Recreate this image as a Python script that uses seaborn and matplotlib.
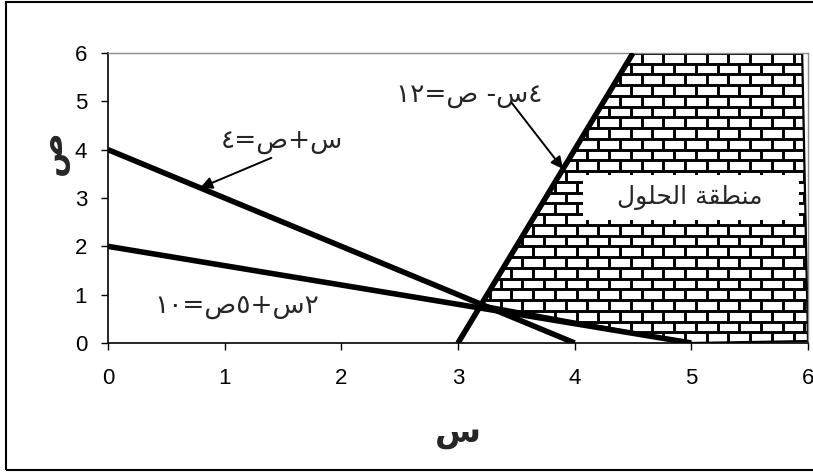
import numpy as np
import pandas as pd
import matplotlib
matplotlib.use("Agg")
import matplotlib.pyplot as plt
import seaborn as sns
from matplotlib.patches import Polygon, Rectangle
from matplotlib.collections import LineCollection

# ---- data ----
line1_x = [0, 4]      # x + y = 4
line1_y = [4, 0]
line2_x = [0, 5]      # 2x + 5y = 10
line2_y = [2, 0]
line3_x = [3, 4.5]    # 4x - y = 12
line3_y = [0, 6]
region_x = [3.2, 4.5, 5.95, 6.0, 5.0]
region_y = [0.8, 6.0, 6.0, 0.04, 0.0]
x_ticks = [0, 1, 2, 3, 4, 5, 6]
y_ticks = [0, 1, 2, 3, 4, 5, 6]

# visual (left-to-right) forms of the Arabic labels
lbl_line1 = "\u0664=\u0635+\u0633"                       # س+ص=٤
lbl_line3 = "\u0661\u0662=\u0635 -\u0633\u0664"           # ٤س- ص=١٢
lbl_line2 = "\u0661\u0660=\u0635\u0665+\u0633\u0662"      # ٢س+٥ص=١٠
lbl_region = ("\uFEDD\uFEEE\uFEE0\uFEA4\uFEDF\uFE8D "
              "\uFE94\uFED8\uFEC4\uFEE8\uFEE3")          # منطقة الحلول
x_label = "\u0633"   # س
y_label = "\u0635"   # ص

sns.set_theme(style="white")
plt.rcParams['font.family'] = ['Liberation Sans', 'DejaVu Sans']

fig = plt.figure(figsize=(8.13, 4.72), dpi=100)
ax = fig.add_axes([108 / 813, 1 - 343 / 472, 700 / 813, 290 / 472])

# feasible region with brick texture
poly = Polygon(np.column_stack([region_x, region_y]), closed=True,
               facecolor='white', edgecolor='black', lw=1.6, zorder=1)
ax.add_patch(poly)
h = 6 / 27
w = 0.186
segs = []
for i in range(28):
    yy = 6 - i * h
    segs.append([(2.9, yy), (6.1, yy)])
for i in range(27):
    y1 = 6 - i * h
    y0 = y1 - h
    off = (i % 2) * w / 2
    for xx in np.arange(2.9 + off, 6.2, w):
        segs.append([(xx, y0), (xx, y1)])
lc = LineCollection(segs, colors='#000000', linewidths=2.1, zorder=1.5)
ax.add_collection(lc)
lc.set_clip_path(poly)

# constraint lines
for xs, ys in [(line1_x, line1_y), (line2_x, line2_y), (line3_x, line3_y)]:
    sns.lineplot(x=xs, y=ys, color='black', lw=4.0, ax=ax, zorder=3,
                 solid_capstyle='butt')

ax.set_xlim(0, 6)
ax.set_ylim(0, 6)
ax.set_xticks(x_ticks)
ax.set_yticks(y_ticks)
ax.tick_params(axis='x', direction='out', length=5, width=1, pad=13,
               labelsize=16, colors='black', bottom=True)
ax.tick_params(axis='y', direction='out', length=5, width=1, pad=10,
               labelsize=16, colors='black', left=True)
for s in ['left', 'bottom']:
    ax.spines[s].set_color('black')
    ax.spines[s].set_linewidth(1.2)
for s in ['top', 'right']:
    ax.spines[s].set_color('#8c8c8c')
    ax.spines[s].set_linewidth(1.0)
ax.grid(False)

ax.set_xlabel(x_label, fontsize=24, fontweight='bold', family=['DejaVu Sans'])
ax.xaxis.set_label_coords(0.5, -0.31)
ax.xaxis.label.set_va('center')
ax.set_ylabel(y_label, fontsize=24, fontweight='bold', family=['DejaVu Sans'])
ax.yaxis.set_label_coords(-0.08, 0.655)
ax.yaxis.label.set_va('center')
ax.yaxis.label.set_ha('center')

# labels and arrows
tfont = dict(fontsize=19, family=['DejaVu Sans'], ha='center', va='center', zorder=5)
ax.text(1.49, 4.18, lbl_line1, **tfont)
ax.text(3.10, 5.11, lbl_line3, **tfont)
ax.text(1.10, 0.77, lbl_line2, **tfont)
ax.add_patch(Rectangle((4.07, 2.545), 1.85, 0.93, facecolor='white',
                       edgecolor='none', zorder=4))
ax.text(4.99, 3.0, lbl_region, **{**tfont, 'fontsize': 18})

arrow = dict(arrowstyle='-|>', color='black', lw=1.4, mutation_scale=18,
             shrinkA=0, shrinkB=0)
ax.annotate('', xy=(0.79, 3.21), xytext=(1.40, 3.83), arrowprops=arrow, zorder=6)
ax.annotate('', xy=(3.90, 3.60), xytext=(3.46, 4.97), arrowprops=arrow, zorder=6)

# figure border
fig.patches.append(Rectangle((6 / 813, 2 / 472), 0.999, 468 / 472,
                             transform=fig.transFigure, fill=False,
                             edgecolor='black', lw=1.5))

fig.savefig('out.png', dpi=100)
